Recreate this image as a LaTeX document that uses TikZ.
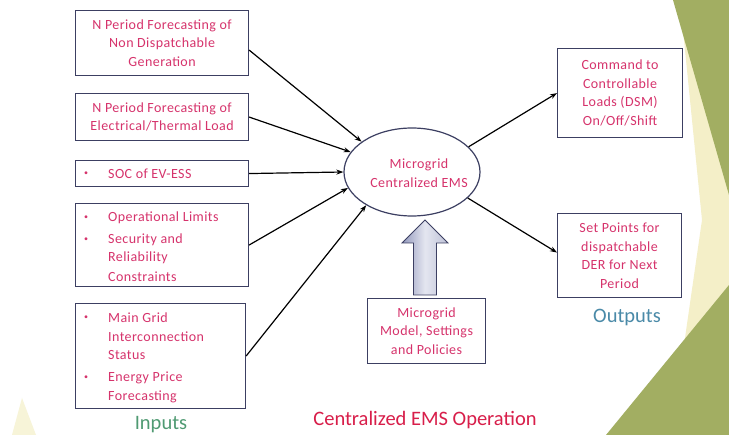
\documentclass[tikz,border=0pt]{standalone}
\usepackage{fontspec}
\setmainfont{Carlito}
\usetikzlibrary{arrows.meta,shapes.geometric}
\definecolor{txtpink}{HTML}{D6336C}
\definecolor{titlered}{HTML}{D81E4A}
\definecolor{boxline}{HTML}{3C3F62}
\definecolor{inpgreen}{HTML}{4F9A72}
\definecolor{outblue}{HTML}{4A8AA8}
\definecolor{olive}{HTML}{A2AE62}
\definecolor{paleyel}{HTML}{F4EFC8}
\definecolor{arrowfillA}{HTML}{9298BC}
\definecolor{arrowfillB}{HTML}{E4E6F0}
\newfontfamily\boxfont[LetterSpace=3]{Carlito}
\newcommand{\smdot}{{\fontsize{8}{8}\selectfont •}}
\begin{document}
\begin{tikzpicture}[x=1pt,y=-1pt,
  boxnode/.style={draw=boxline, line width=1.1pt, inner sep=0pt, anchor=north west,
    text=txtpink, align=center, font=\boxfont\fontsize{14}{18.5}\selectfont},
  plaintxt/.style={text=txtpink, inner sep=0pt, anchor=west, font=\boxfont\fontsize{14}{18.5}\selectfont},
  conn/.style={line width=1.2pt, -{Stealth[length=7pt,width=5pt]}},
  lbl/.style={inner sep=0pt, font=\fontsize{20.5}{24}\selectfont}]
\useasboundingbox (0,0) rectangle (729,435);
\fill[white] (0,0) rectangle (729,435);
% decorative background
\fill[paleyel] (682,20) -- (729,180) -- (729,300) -- (684,345) -- (702,220) -- cycle;
\fill[olive] (673,0) -- (729,0) -- (729,195) -- cycle;
\fill[olive] (729,285) -- (729,435) -- (606,435) -- cycle;
\fill[paleyel!70!white] (12,435) -- (22,398) -- (36,435) -- cycle;

% input boxes
\node[boxnode, minimum width=173, minimum height=65] (b1) at (75,10)
  {N Period Forecasting of\\Non Dispatchable\\Generation};
\node[boxnode, minimum width=173, minimum height=47] (b2) at (75,93)
  {N Period Forecasting of\\Electrical/Thermal Load};
\node[boxnode, minimum width=173, minimum height=26] (b3) at (75,160) {};
\node[plaintxt] (b3d) at (84,174) {\smdot};
\node[plaintxt] (b3t) at (108,174) {SOC of EV-ESS};
\node[boxnode, minimum width=173, minimum height=83] (b4) at (75,203) {};
\node[plaintxt] (b4d1) at (84,218) {\smdot};
\node[plaintxt] (b4t1) at (108,218) {Operational Limits};
\node[plaintxt] (b4d2) at (84,240) {\smdot};
\node[plaintxt] (b4t2) at (108,240) {Security and};
\node[plaintxt] (b4t3) at (108,258) {Reliability};
\node[plaintxt] (b4t4) at (108,277) {Constraints};
\node[boxnode, minimum width=170, minimum height=105] (b5) at (75,303) {};
\node[plaintxt] (b5d1) at (84,318) {\smdot};
\node[plaintxt] (b5t1) at (108,318) {Main Grid};
\node[plaintxt] (b5t2) at (108,337) {Interconnection};
\node[plaintxt] (b5t3) at (108,355) {Status};
\node[plaintxt] (b5d2) at (84,378) {\smdot};
\node[plaintxt] (b5t4) at (108,378) {Energy Price};
\node[plaintxt] (b5t5) at (108,397) {Forecasting};

% central ellipse
\node[draw=boxline, line width=1.2pt, ellipse, minimum width=136, minimum height=88, inner sep=0pt] (ems) at (412,172) {};
\node[plaintxt, anchor=center, align=center] (emst) at (419,173) {Microgrid\\Centralized EMS};

% model box and block arrow
\node[boxnode, minimum width=118, minimum height=65] (mdl) at (367,298)
  {Microgrid\\Model, Settings\\and Policies};
\shade[left color=arrowfillA, right color=arrowfillA!60!white, middle color=arrowfillB, draw=boxline, line width=0.8pt]
  (413.5,295) -- (413.5,243) -- (402,243) -- (425,220) -- (448,243) -- (436.5,243) -- (436.5,295) -- cycle;

% output boxes
\node[boxnode, minimum width=125, minimum height=89] (o1) at (557,48)
  {Command to\\Controllable\\Loads (DSM)\\On/Off/Shift};
\node[boxnode, minimum width=124, minimum height=84] (o2) at (557,213)
  {Set Points for\\dispatchable\\DER for Next\\Period};

% connectors
\draw[conn] ([yshift=-7pt]b1.east) -- (ems.149);
\draw[conn] (b2.east) -- (ems.162);
\draw[conn] (b3.east) -- (ems.180);
\draw[conn] (b4.east) -- (ems.194);
\draw[conn] (b5.east) -- (ems.216);
\draw[conn] (ems.24) -- (o1.west);
\draw[conn] (ems.335) -- ([yshift=3pt]o2.west);

% labels
\node[lbl, text=inpgreen] (inp) at (161,425) {Inputs};
\node[lbl, text=outblue] (outp) at (627,318) {Outputs};
\node[lbl, text=titlered] (title) at (425,420) {Centralized EMS Operation};
\end{tikzpicture}
\end{document}
